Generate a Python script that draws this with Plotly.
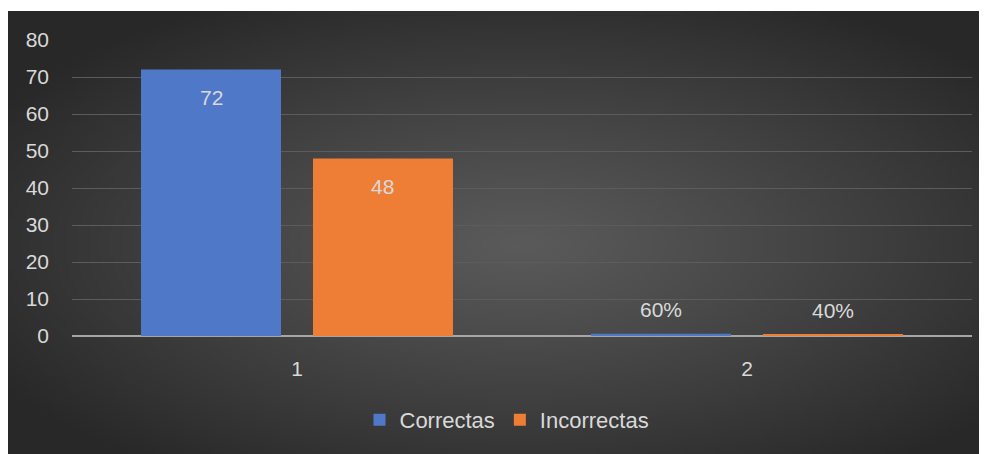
import base64, struct, zlib, math
import plotly.graph_objects as go

# ---- data ----
categories = ["1", "2"]
correctas = [72, 0.6]
incorrectas = [48, 0.4]
labels_correctas = ["72", "60%"]
labels_incorrectas = ["48", "40%"]
label_inside = [True, False]
y_ticks = [0, 10, 20, 30, 40, 50, 60, 70, 80]

# ---- radial gradient background as PNG ----
def make_png(w, h):
    rows = []
    cx, cy = 0.52 * w, 0.52 * h
    for j in range(h):
        row = bytearray([0])
        for i in range(w):
            dx = (i - cx) / (0.62 * w)
            dy = (j - cy) / (0.62 * h)
            d = min(1.0, math.sqrt(dx * dx + dy * dy))
            v = int(round(0x5a + (0x28 - 0x5a) * (d ** 1.1)))
            row += bytes([v, v, v])
        rows.append(bytes(row))
    raw = b"".join(rows)
    def chunk(t, data):
        c = struct.pack(">I", len(data)) + t + data
        return c + struct.pack(">I", zlib.crc32(t + data) & 0xffffffff)
    png = b"\x89PNG\r\n\x1a\n"
    png += chunk(b"IHDR", struct.pack(">IIBBBBB", w, h, 8, 2, 0, 0, 0))
    png += chunk(b"IDAT", zlib.compress(raw, 9))
    png += chunk(b"IEND", b"")
    return "data:image/png;base64," + base64.b64encode(png).decode()

bg = make_png(245, 110)

OFF = 8  # page body margin
W, H = 987 - OFF, 454 - OFF
# plot area in window pixels: x 72..972, y 40..336
L, R, T, B = 72 - OFF, W - (972 - OFF), 40 - OFF, H - (336 - OFF)
pw, ph = W - L - R, H - T - B

def px_to_paper_x(px):
    return (px - OFF - L) / pw

def px_to_paper_y(py):
    return (H - B - (py - OFF)) / ph

txt = "#d9d9d9"
font_family = "Liberation Sans, Arial, sans-serif"
BARGAP, GROUPGAP = 0.2356, 0.186
slot_px = pw / len(categories) * (1 - BARGAP) / 2

fig = go.Figure()
fig.add_trace(go.Bar(
    name="Correctas", x=categories, y=correctas,
    marker=dict(color="#5078c8", line=dict(width=0)),
))
fig.add_trace(go.Bar(
    name="Incorrectas", x=categories, y=incorrectas,
    marker=dict(color="#ee7d36", line=dict(width=0)),
))

annotations = []
for vals, labs, sgn in ((correctas, labels_correctas, -1), (incorrectas, labels_incorrectas, 1)):
    for idx, (v, lab, ins) in enumerate(zip(vals, labs, label_inside)):
        annotations.append(dict(
            x=idx, y=v, xref="x", yref="y", text=lab, showarrow=False,
            xanchor="center", yanchor="middle",
            xshift=sgn * slot_px / 2, yshift=-28 if ins else 24,
            font=dict(size=21, color=txt, family=font_family),
        ))

fig.update_layout(
    width=W, height=H,
    margin=dict(l=L, r=R, t=T, b=B),
    paper_bgcolor="white",
    plot_bgcolor="rgba(0,0,0,0)",
    barmode="group",
    bargap=BARGAP,
    bargroupgap=GROUPGAP,
    font=dict(family=font_family, color=txt, size=21),
    showlegend=True,
    legend=dict(orientation="h", x=px_to_paper_x(507), xanchor="center",
                y=px_to_paper_y(420), yanchor="middle",
                font=dict(size=22, color=txt), itemwidth=30,
                bgcolor="rgba(0,0,0,0)"),
    annotations=annotations,
    images=[dict(
        source=bg, xref="paper", yref="paper",
        x=px_to_paper_x(8), y=px_to_paper_y(11),
        sizex=(W + 2) / pw, sizey=(H - 3 + 2) / ph,
        xanchor="left", yanchor="top", sizing="stretch", layer="below",
    )],
)
fig.update_xaxes(
    type="category", range=[-0.5, len(categories) - 0.5], autorange=False,
    showgrid=False, zeroline=False, showline=False,
    ticks="", ticklabelstandoff=18,
    tickfont=dict(size=21, color=txt),
)
fig.update_yaxes(
    range=[0, 80], autorange=False, tickvals=y_ticks,
    showgrid=True, gridcolor="#5c5c5c", gridwidth=1,
    zeroline=True, zerolinecolor="#a6a6a6", zerolinewidth=2,
    showline=False, ticks="", ticklabelstandoff=22,
    tickfont=dict(size=21, color=txt),
)

fig.write_html(
    "out.html",
    post_script="document.documentElement.style.overflow='hidden';document.body.style.overflow='hidden';",
)
